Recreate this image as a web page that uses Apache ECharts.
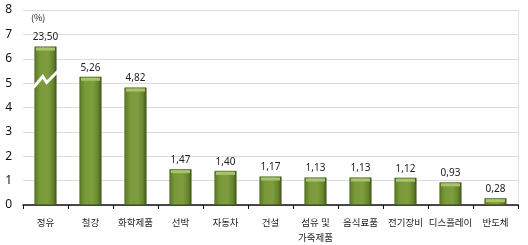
<!DOCTYPE html>
<html>
<head>
<meta charset="utf-8">
<script src="https://cdn.jsdelivr.net/npm/echarts@6/dist/echarts.min.js"></script>
<style>
  html, body { margin: 0; padding: 0; background: #fff; }
  #chart { width: 528px; height: 245px; }
</style>
</head>
<body>
<div id="chart"></div>
<script>
// industries
const categories = ["정유", "철강", "화학제품", "선박", "자동차", "건설", "섬유 및\n가죽제품", "음식료품", "전기장비", "디스플레이", "반도체"];
// bar heights as drawn (정유 is cut off at 6.5 with a break mark)
const barValues = [6.5, 5.26, 4.82, 1.47, 1.40, 1.17, 1.13, 1.13, 1.12, 0.93, 0.28];
// printed values
const valueLabels = ["23,50", "5,26", "4,82", "1,47", "1,40", "1,17", "1,13", "1,13", "1,12", "0,93", "0,28"];
// where the axis break is drawn on the first bar
const breakAt = [[0, 5.15]];
const yTicks = [0, 1, 2, 3, 4, 5, 6, 7, 8];

const chart = echarts.init(document.getElementById("chart"), null, { renderer: "canvas" });

const barColor = new echarts.graphic.LinearGradient(0, 0, 1, 0, [
  { offset: 0, color: "#5a7a24" },
  { offset: 0.25, color: "#7a9a3a" },
  { offset: 0.6, color: "#7e9d3e" },
  { offset: 0.85, color: "#66842c" },
  { offset: 1, color: "#3f5517" },
]);

const option = {
  animation: false,
  grid: { left: 23, right: 10, top: 10, bottom: 39 },
  xAxis: {
    type: "category",
    data: categories,
    axisLine: { lineStyle: { color: "#111", width: 1.5 } },
    axisTick: { show: true, alignWithLabel: false, length: 4, lineStyle: { color: "#111" } },
    axisLabel: {
      color: "#222",
      fontSize: 9.5,
      fontFamily: "Noto Sans CJK KR",
      margin: 10,
      lineHeight: 15,
      interval: 0,
    },
  },
  yAxis: [
    {
      type: "value",
      min: yTicks[0],
      max: yTicks[yTicks.length - 1],
      interval: 1,
      name: "(%)",
      nameLocation: "end",
      nameGap: -12,
      nameTextStyle: { color: "#222", fontSize: 9, align: "left", padding: [0, 0, 0, 8], fontFamily: "Noto Sans CJK KR" },
      axisLine: { show: false },
      axisTick: { show: false },
      axisLabel: { color: "#111", fontSize: 12, margin: 11, fontFamily: "Noto Sans" },
      splitLine: { lineStyle: { color: "#dcdcdc", width: 1 } },
    },
    {
      type: "value",
      position: "right",
      min: 0,
      max: 8,
      interval: 1,
      axisLine: { show: true, lineStyle: { color: "#e3e3e3" } },
      axisTick: { show: false },
      axisLabel: { show: false },
      splitLine: { show: false },
    },
  ],
  series: [
    {
      type: "bar",
      data: barValues,
      barWidth: "49%",
      itemStyle: { color: barColor, borderColor: "#43591b", borderWidth: 0.6 },
      label: {
        show: true,
        position: "top",
        distance: 4,
        color: "#222",
        fontSize: 10,
        fontFamily: "Noto Sans",
        formatter: (p) => valueLabels[p.dataIndex],
      },
    },
    {
      // light bevel strip along each bar's top
      type: "custom",
      data: barValues.map((v, i) => [i, v]),
      z: 3,
      renderItem: (params, api) => {
        const top = api.coord([api.value(0), api.value(1)]);
        const w = api.size([1, 0])[0] * 0.49;
        return {
          type: "rect",
          shape: { x: top[0] - w / 2 + 1.5, y: top[1] + 1, width: w - 3, height: 3 },
          style: { fill: "#a9c46c" },
        };
      },
    },
    {
      // zigzag axis-break mark on the 정유 bar
      type: "custom",
      data: breakAt,
      z: 4,
      renderItem: (params, api) => {
        const c = api.coord([api.value(0), api.value(1)]);
        const w = api.size([1, 0])[0] * 0.49;
        const l = c[0] - w / 2 - 1;
        return {
          type: "polyline",
          shape: {
            points: [
              [l, c[1] + 8],
              [l + w * 0.42, c[1] - 3],
              [l + w * 0.6, c[1] + 3],
              [l + w + 2, c[1] - 8],
            ],
          },
          style: { stroke: "#fff", lineWidth: 3, fill: null },
        };
      },
    },
  ],
};

chart.setOption(option);
</script>
</body>
</html>
